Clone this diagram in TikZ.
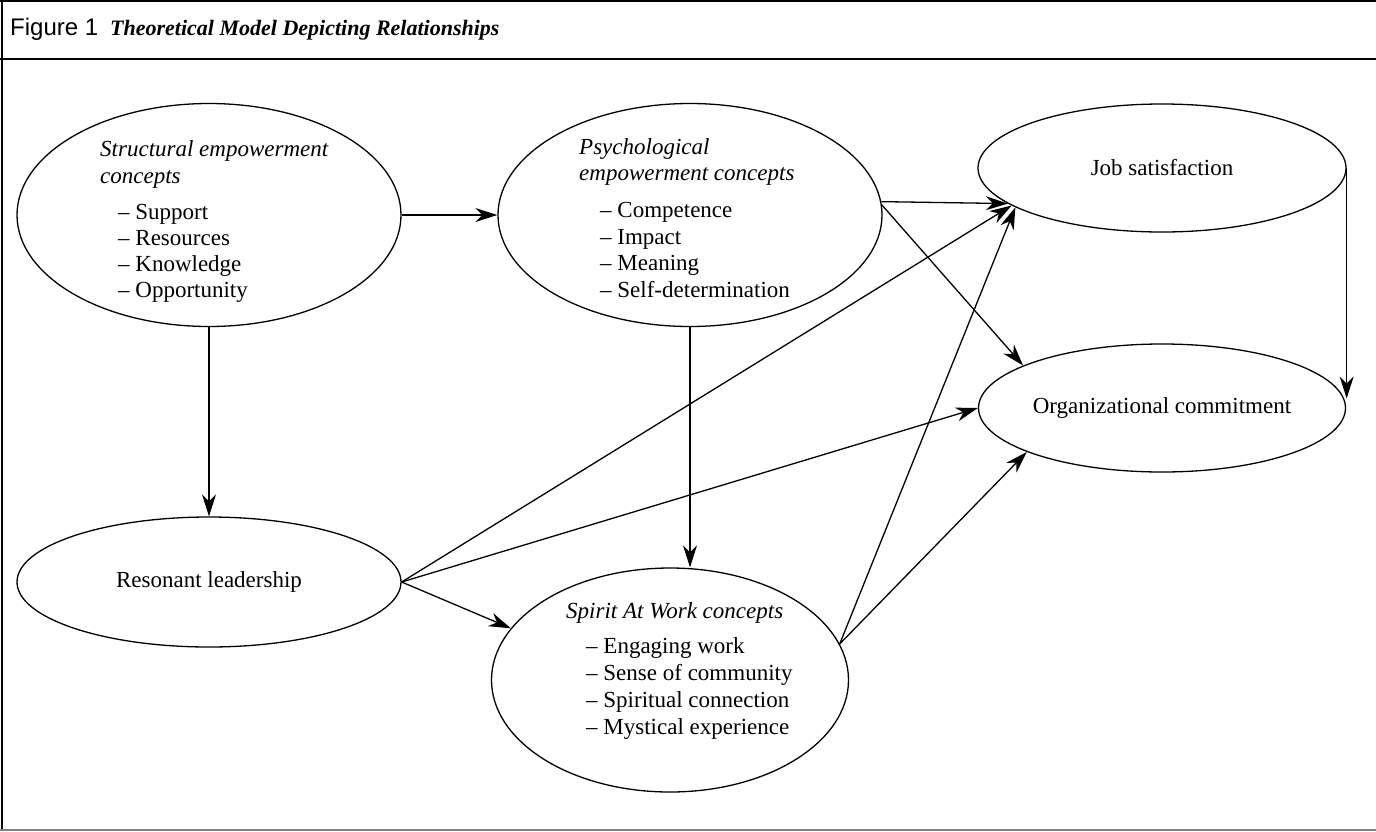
\documentclass[tikz,border=0pt]{standalone}
\usepackage{fontspec}
\setmainfont{Liberation Serif}
\newfontfamily\hsans{Liberation Sans}
\usetikzlibrary{shapes.geometric,arrows.meta}
\newcommand\myBody{\fontsize{23}{26}\selectfont}
\tikzset{
  ell/.style={draw, ellipse, inner sep=0pt, line width=1.3pt},
  arr/.style={-{Stealth[length=22pt,width=14pt,inset=7pt]}, line width=1.3pt},
  txt/.style={align=left, inner sep=0pt, font=\myBody},
  frameline/.style={line width=2pt},
}
\begin{document}
\begin{tikzpicture}[x=1pt,y=-1pt]
\useasboundingbox (0,0) rectangle (1376,831);
\fill[white] (0,0) rectangle (1376,831);
% frame
\draw[frameline] (0,1) -- (1376,1);
\draw[frameline] (0,59) -- (1376,59);
\draw[line width=1.6pt] (2,0) -- (2,831);
\draw[line width=1.6pt, gray] (0,830) -- (1376,830);
% header
\node[anchor=base west, inner sep=0pt, font=\hsans\fontsize{24}{26}\selectfont] (fig) at (10,35) {Figure 1};
\node[anchor=base west, inner sep=0pt, font=\bfseries\itshape\fontsize{22}{26}\selectfont] (ttl) at (110,35) {Theoretical Model Depicting Relationships};
% ellipses
\node[ell, minimum width=384pt, minimum height=223pt] (se) at (209,215) {};
\node[ell, minimum width=384pt, minimum height=223pt] (pe) at (690,215) {};
\node[ell, minimum width=368pt, minimum height=128pt, font=\myBody] (js) at (1162,168) {Job satisfaction};
\node[ell, minimum width=367pt, minimum height=128pt, font=\myBody] (oc) at (1162,408) {Organizational commitment};
\node[ell, minimum width=384pt, minimum height=130pt, font=\myBody] (rl) at (209,582) {Resonant leadership};
\node[ell, minimum width=357pt, minimum height=224pt] (sw) at (670,680) {};
% texts
\node[txt, anchor=west] (se-t) at (100,221) {\textit{Structural empowerment}\\[1pt]\textit{concepts}\\[10pt]
\hspace*{18pt}– Support\\\hspace*{18pt}– Resources\\\hspace*{18pt}– Knowledge\\\hspace*{18pt}– Opportunity};
\node[txt, anchor=west] (pe-t) at (579,218) {\textit{Psychological}\\[0pt]\textit{empowerment concepts}\\[11pt]
\hspace*{21pt}– Competence\\[1pt]\hspace*{21pt}– Impact\\\hspace*{21pt}– Meaning\\[1pt]\hspace*{21pt}– Self-determination};
\node[txt, anchor=west] (sw-t) at (566,671) {\textit{Spirit At Work concepts}\\[9pt]
\hspace*{20pt}– Engaging work\\[1pt]\hspace*{20pt}– Sense of community\\[1pt]\hspace*{20pt}– Spiritual connection\\[1pt]\hspace*{20pt}– Mystical experience};
% connectors
\draw[arr] (se.east) -- (pe.west);
\draw[arr] (se.south) -- (rl.north);
\draw[arr] (pe.south) -- (pe.south |- sw.north);
\draw[arr] (pe.4) -- (js.193);
\draw[arr] (pe.3) -- (oc.163);
\draw[arr] (rl.east) -- (js.194);
\draw[arr] (rl.east) -- (oc.west);
\draw[arr] (rl.east) -- (sw.162);
\draw[arr] (sw.12) -- (js.195);
\draw[arr] (sw.12) -- (oc.198);
\draw[arr] (js.east) -- (js.east |- oc.3);
\end{tikzpicture}
\end{document}
